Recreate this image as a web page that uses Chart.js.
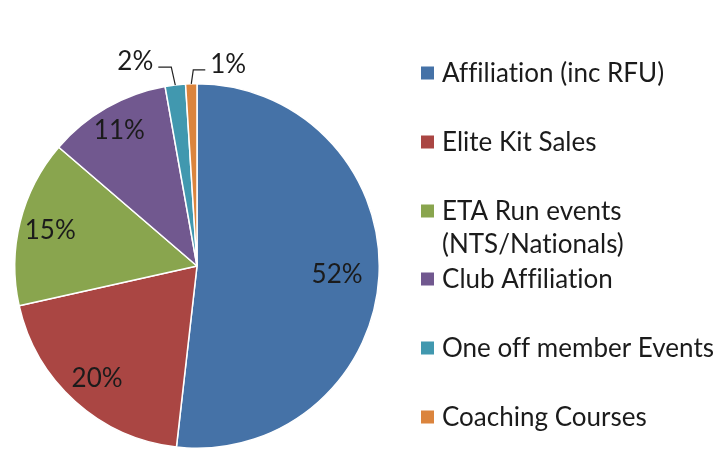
<!DOCTYPE html>
<html>
<head>
<meta charset="utf-8">
<script src="https://cdn.jsdelivr.net/npm/chart.js@4.4.0/dist/chart.umd.min.js"></script>
<style>
    html, body { margin: 0; padding: 0; background: #fff; }
    #wrap { width: 720px; height: 450px; position: relative; }
</style>
</head>
<body>
<div id="wrap"><canvas id="pie"></canvas></div>
<script>
// Data (share of income, %)
const categories = ['Affiliation (inc RFU)', 'Elite Kit Sales', ['ETA Run events', '(NTS/Nationals)'], 'Club Affiliation', 'One off member Events', 'Coaching Courses'];
const shares = [51.8, 19.7, 14.8, 10.9, 1.8, 1.0];
const colours = ['#4572A7', '#AA4643', '#89A54E', '#71588F', '#4198AF', '#DB843D'];

const FONT_FAMILY = 'Lato, "Noto Sans", sans-serif';
const FONT_SIZE = 26;
const CAP = FONT_SIZE * 0.36; // half cap height, used to centre text on a point
const TEXT_COLOUR = '#1b1b1b';

// Inside labels sit at a fraction of the radius; the two thin slices get leader lines
const insideFactor = [0.77, 0.82, 0.83, 0.86, null, null];
const leaders = {
    4: { elbow: [-4, -18], run: -13, align: 'right' },
    5: { elbow: [2, -14], run: 12, align: 'left' }
};

function setFont(ctx) {
    ctx.font = FONT_SIZE + 'px ' + FONT_FAMILY;
    ctx.textRendering = 'optimizeSpeed'; // no "ffi" ligature
    ctx.letterSpacing = '0.01px';
}

const sliceLabels = {
    id: 'sliceLabels',
    afterDatasetsDraw(chart) {
        const ctx = chart.ctx;
        const arcs = chart.getDatasetMeta(0).data;
        ctx.save();
        setFont(ctx);
        ctx.fillStyle = TEXT_COLOUR;
        ctx.textBaseline = 'alphabetic';
        arcs.forEach((arc, i) => {
            const { x, y, startAngle, endAngle, outerRadius } = arc.getProps(['x', 'y', 'startAngle', 'endAngle', 'outerRadius'], true);
            const mid = (startAngle + endAngle) / 2;
            const text = Math.round(shares[i]) + '%';
            if (insideFactor[i]) {
                const r = outerRadius * insideFactor[i];
                ctx.textAlign = 'center';
                ctx.fillText(text, x + Math.cos(mid) * r, y + Math.sin(mid) * r + CAP);
                return;
            }
            const l = leaders[i];
            const px = x + Math.cos(mid) * outerRadius;
            const py = y + Math.sin(mid) * outerRadius;
            const ex = px + l.elbow[0];
            const ey = py + l.elbow[1];
            ctx.strokeStyle = '#222';
            ctx.lineWidth = 1.2;
            ctx.beginPath();
            ctx.moveTo(px, py);
            ctx.lineTo(ex, ey);
            ctx.lineTo(ex + l.run, ey);
            ctx.stroke();
            ctx.textAlign = l.align;
            const tx = ex + l.run + (l.align === 'right' ? -5 : 5);
            ctx.fillText(text, tx, ey - 6 + CAP);
        });
        ctx.restore();
    }
};

// Legend on the right, drawn by hand so the wrapped label keeps Excel's spacing
const legendRows = [73, 142, 211, 279, 348, 417];
const sideLegend = {
    id: 'sideLegend',
    afterDraw(chart) {
        const ctx = chart.ctx;
        ctx.save();
        setFont(ctx);
        ctx.textAlign = 'left';
        ctx.textBaseline = 'alphabetic';
        categories.forEach((label, i) => {
            const cy = legendRows[i];
            ctx.fillStyle = colours[i];
            ctx.fillRect(421, cy - 6.5, 13, 13);
            ctx.fillStyle = TEXT_COLOUR;
            const lines = Array.isArray(label) ? label : [label];
            lines.forEach((line, j) => {
                ctx.fillText(line, 442, cy + CAP + j * 33);
            });
        });
        ctx.restore();
    }
};

new Chart(document.getElementById('pie'), {
    type: 'pie',
    data: {
        labels: categories,
        datasets: [{
            data: shares,
            backgroundColor: colours,
            borderColor: '#ffffff',
            borderWidth: 1.5
        }]
    },
    options: {
        responsive: true,
        maintainAspectRatio: false,
        animation: false,
        layout: { padding: { left: 14, top: 83, right: 340, bottom: 1 } },
        plugins: {
            legend: { display: false },
            tooltip: { enabled: false }
        }
    },
    plugins: [sliceLabels, sideLegend]
});
</script>
</body>
</html>
